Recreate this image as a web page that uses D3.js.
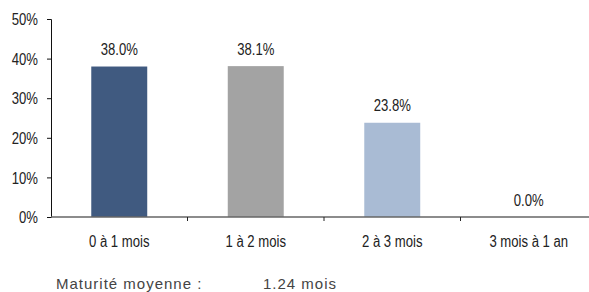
<!DOCTYPE html>
<html>
<head>
<meta charset="utf-8">
<script src="https://cdn.jsdelivr.net/npm/d3@7"></script>
<style>
  body { margin: 0; background: #fff; }
  svg text { font-family: "Liberation Sans", Arial, sans-serif; font-size: 16px; fill: #222; }
  .note { font-size: 15px; letter-spacing: 1px; fill: #444; }
</style>
</head>
<body>
<svg id="chart"></svg>
<script>
// Répartition par maturité
const categories = ["0 à 1 mois", "1 à 2 mois", "2 à 3 mois", "3 mois à 1 an"];
const values = [38.0, 38.1, 23.8, 0.0];
const barColors = ["#405a80", "#a3a3a3", "#a9bbd4", "#a9bbd4"];
const yTicks = [0, 10, 20, 30, 40, 50];
const noteLabel = "Maturité moyenne :";
const noteValue = "1.24 mois";

const wsvg = 589;
const hsvg = 292;
const narrow = 0.82; // police étroite simulée

const svg = d3.select("#chart")
    .attr("width", wsvg)
    .attr("height", hsvg);

const x = d3.scaleBand(categories, [51, 597]).paddingInner(0).paddingOuter(0);
const y = d3.scaleLinear([0, 50], [217, 19]);

// barres
const bw = x.bandwidth() * 0.41;
svg.selectAll("rect.bar")
    .data(values)
    .enter()
    .append("rect")
    .attr("class", "bar")
    .attr("x", (d, i) => x(categories[i]) + x.bandwidth() / 2 - bw / 2)
    .attr("y", d => y(d))
    .attr("width", bw)
    .attr("height", d => y(0) - y(d))
    .attr("fill", (d, i) => barColors[i]);

// étiquettes de valeur
svg.selectAll("text.val")
    .data(values)
    .enter()
    .append("text")
    .attr("class", "val")
    .attr("transform", (d, i) => `translate(${x(categories[i]) + x.bandwidth() / 2},${y(d) - 11.5}) scale(${narrow},1)`)
    .attr("text-anchor", "middle")
    .text(d => d.toFixed(1) + "%");

// axe Y
const yAxis = d3.axisLeft(y).tickValues(yTicks).tickFormat(d => d + "%").tickSize(4).tickPadding(9);
const yg = svg.append("g").attr("transform", "translate(51,0)").call(yAxis);
yg.select(".domain").attr("stroke", "#111");
yg.selectAll(".tick line").attr("stroke", "#111");
yg.selectAll(".tick text")
    .attr("fill", "#222")
    .style("font-size", "16px")
    .style("font-family", null)
    .attr("x", 0)
    .attr("dy", "0.36em")
    .attr("transform", `translate(-13,0) scale(${narrow},1)`);
yg.attr("font-family", null).attr("font-size", null);

// axe X
const xg = svg.append("g").attr("transform", `translate(0,${y(0)})`);
xg.append("line")
    .attr("x1", 51).attr("x2", 597)
    .attr("stroke", "#666").attr("stroke-width", 1.5);
xg.selectAll("line.tk")
    .data(categories.slice(1))
    .enter()
    .append("line")
    .attr("class", "tk")
    .attr("x1", d => x(d)).attr("x2", d => x(d))
    .attr("y1", 0).attr("y2", 4)
    .attr("stroke", "#222");
xg.selectAll("text.cat")
    .data(categories)
    .enter()
    .append("text")
    .attr("class", "cat")
    .attr("transform", d => `translate(${x(d) + x.bandwidth() / 2},30) scale(${narrow},1)`)
    .attr("text-anchor", "middle")
    .text(d => d);

// maturité moyenne
svg.append("text").attr("class", "note").attr("x", 56).attr("y", 289).text(noteLabel);
svg.append("text").attr("class", "note").attr("x", 263).attr("y", 289).text(noteValue);
</script>
</body>
</html>
